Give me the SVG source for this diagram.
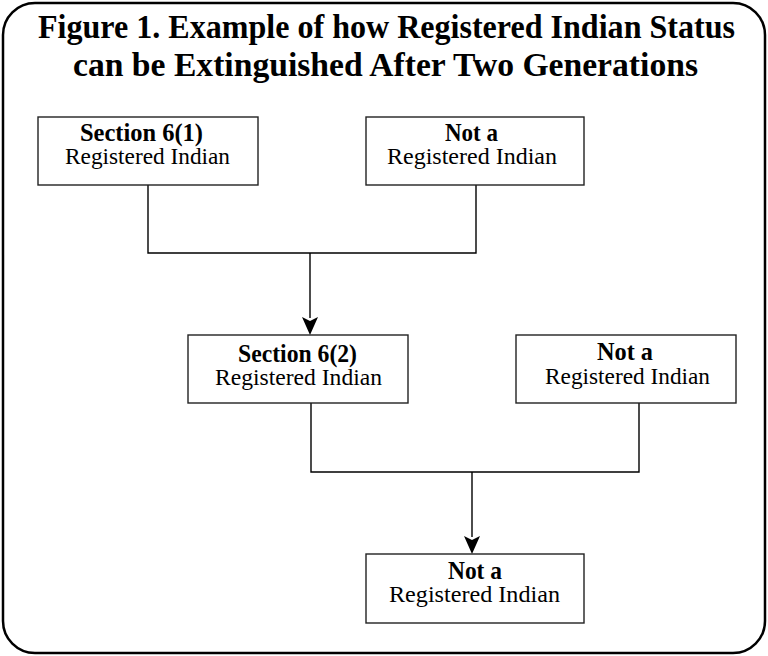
<svg xmlns="http://www.w3.org/2000/svg" width="768" height="656" viewBox="0 0 768 656">
<style>
.frame{fill:#fff;stroke:#000;stroke-width:2.5}
.box{fill:#fff;stroke:#222;stroke-width:1.4}
.conn{fill:none;stroke:#000;stroke-width:1.4}
.title{font-family:"Liberation Serif","Times New Roman",serif;font-weight:bold;font-size:33px;text-anchor:middle;fill:#000}
.b{font-family:"Liberation Serif","Times New Roman",serif;font-weight:bold;font-size:25px;text-anchor:middle;fill:#000}
.r{font-family:"Liberation Serif","Times New Roman",serif;font-size:24px;text-anchor:middle;fill:#000}
</style>
<rect class="frame" x="3" y="3" width="762" height="650" rx="32" ry="32"/>
<g id="title">
<text class="title" x="386.5" y="38" textLength="697" lengthAdjust="spacingAndGlyphs">Figure 1. Example of how Registered Indian Status</text>
<text class="title" x="385.5" y="75.5" textLength="625" lengthAdjust="spacingAndGlyphs">can be Extinguished After Two Generations</text>
</g>
<g id="connectors">
<path class="conn" d="M148,185 V253 H476 V185"/>
<line class="conn" x1="310" y1="253" x2="310" y2="318"/>
<path d="M302,317 L310,321 L318,317 L310,335 Z" fill="#000"/>
<path class="conn" d="M311,403 V472 H639 V403"/>
<line class="conn" x1="472" y1="472" x2="472" y2="537"/>
<path d="M464,536 L472,540 L480,536 L472,554 Z" fill="#000"/>
</g>
<g id="node1">
<rect class="box" x="38" y="117" width="220" height="68"/>
<text class="b" x="141.5" y="141" textLength="123" lengthAdjust="spacingAndGlyphs">Section 6(1)</text>
<text class="r" x="147.5" y="164" textLength="165" lengthAdjust="spacingAndGlyphs">Registered Indian</text>
</g>
<g id="node2">
<rect class="box" x="366" y="117" width="218" height="68"/>
<text class="b" x="471.5" y="141" textLength="53" lengthAdjust="spacingAndGlyphs">Not a</text>
<text class="r" x="472" y="164" textLength="170" lengthAdjust="spacingAndGlyphs">Registered Indian</text>
</g>
<g id="node3">
<rect class="box" x="188" y="335" width="220" height="68"/>
<text class="b" x="297.5" y="362" textLength="119" lengthAdjust="spacingAndGlyphs">Section 6(2)</text>
<text class="r" x="298.5" y="384.5" textLength="167" lengthAdjust="spacingAndGlyphs">Registered Indian</text>
</g>
<g id="node4">
<rect class="box" x="516" y="335" width="220" height="68"/>
<text class="b" x="625" y="360" textLength="56" lengthAdjust="spacingAndGlyphs">Not a</text>
<text class="r" x="627.5" y="384" textLength="165" lengthAdjust="spacingAndGlyphs">Registered Indian</text>
</g>
<g id="node5">
<rect class="box" x="366" y="554" width="218" height="69"/>
<text class="b" x="475" y="578.5" textLength="54" lengthAdjust="spacingAndGlyphs">Not a</text>
<text class="r" x="474.5" y="602" textLength="171" lengthAdjust="spacingAndGlyphs">Registered Indian</text>
</g>
</svg>
